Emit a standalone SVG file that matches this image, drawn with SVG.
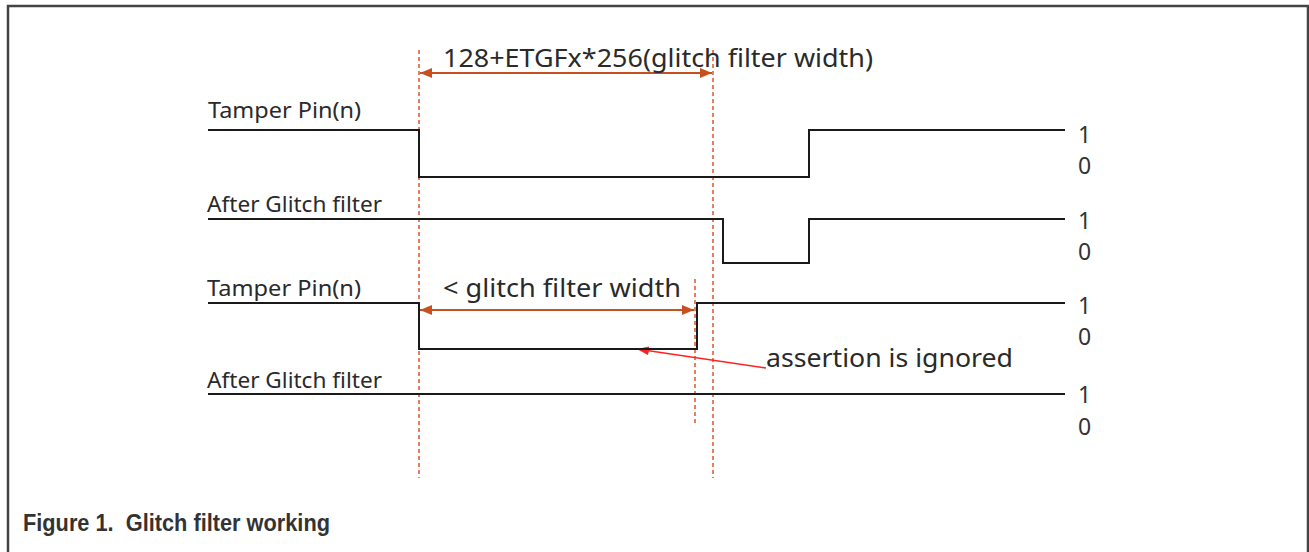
<svg xmlns="http://www.w3.org/2000/svg" width="1309" height="552" viewBox="0 0 1309 552">
  <defs>
    <style>
      .lbl { font-family: "Noto Sans", "Open Sans", sans-serif; font-size: 22px; fill: #2a2a2a; }
      .big { font-family: "Noto Sans", "Open Sans", sans-serif; font-size: 26px; fill: #2a2a2a; }
      .lvl { font-family: "Noto Sans", "Open Sans", sans-serif; font-size: 23px; fill: #333333; }
      .sig { fill: none; stroke: #1a1a1a; stroke-width: 2; }
      .guide { fill: none; stroke: #e0603a; stroke-width: 1.6; stroke-dasharray: 4 3; }
      .dim { fill: none; stroke: #c8501e; stroke-width: 2; marker-start: url(#dimS); marker-end: url(#dimE); }
      .note { fill: none; stroke: #ff2020; stroke-width: 1.6; marker-end: url(#redE); }
      .cap { font-family: "Liberation Sans", Arial, sans-serif; font-size: 23px; font-weight: bold; fill: #333333; }
    </style>
    <marker id="dimE" viewBox="0 0 12 10" refX="12" refY="5" markerWidth="12" markerHeight="10" markerUnits="userSpaceOnUse" orient="auto">
      <path d="M0,0 L12,5 L0,10 Z" fill="#c8501e"/>
    </marker>
    <marker id="dimS" viewBox="0 0 12 10" refX="0" refY="5" markerWidth="12" markerHeight="10" markerUnits="userSpaceOnUse" orient="auto">
      <path d="M12,0 L0,5 L12,10 Z" fill="#c8501e"/>
    </marker>
    <marker id="redE" viewBox="0 0 12 9" refX="12" refY="4.5" markerWidth="12" markerHeight="9" markerUnits="userSpaceOnUse" orient="auto">
      <path d="M0,0 L12,4.5 L0,9 Z" fill="#ff2020"/>
    </marker>
  </defs>
  <rect width="1309" height="552" fill="#ffffff"/>
  <g id="frame">
    <path d="M8,560 L8,6 L1308,6 L1308,560" fill="none" stroke="#444444" stroke-width="2.5"/>
  </g>

  <g id="connectors">
    <line class="guide" x1="419" y1="50" x2="419" y2="478"/>
    <line class="guide" x1="713" y1="50" x2="713" y2="478"/>
    <line class="guide" x1="695" y1="279" x2="695" y2="423"/>
    <line class="dim" x1="420" y1="73" x2="712" y2="73"/>
    <line class="dim" x1="420" y1="310" x2="694" y2="310"/>
    <line class="note" x1="766" y1="368" x2="637" y2="349"/>
  </g>

  <g id="dim-label-1">
    <text class="big" x="443" y="67" textLength="430" lengthAdjust="spacingAndGlyphs">128+ETGFx*256(glitch filter width)</text>
  </g>

  <g id="signal-1">
    <text class="lbl" x="208" y="118" textLength="153" lengthAdjust="spacingAndGlyphs">Tamper Pin(n)</text>
    <path class="sig" d="M208,130 H419 V177 H809 V130 H1065"/>
    <text class="lvl" x="1078" y="143">1</text>
    <text class="lvl" x="1078" y="174">0</text>
  </g>

  <g id="signal-2">
    <text class="lbl" x="207" y="212" textLength="175" lengthAdjust="spacingAndGlyphs">After Glitch filter</text>
    <path class="sig" d="M208,219 H723 V263 H809 V219 H1065"/>
    <text class="lvl" x="1078" y="229">1</text>
    <text class="lvl" x="1078" y="260">0</text>
  </g>

  <g id="signal-3">
    <text class="lbl" x="207" y="296" textLength="154" lengthAdjust="spacingAndGlyphs">Tamper Pin(n)</text>
    <path class="sig" d="M208,303 H419 V349 H697 V303 H1065"/>
    <text class="lvl" x="1078" y="314">1</text>
    <text class="lvl" x="1078" y="345">0</text>
  </g>

  <g id="dim-label-2">
    <text class="big" x="443" y="297" textLength="238" lengthAdjust="spacingAndGlyphs">&lt; glitch filter width</text>
  </g>

  <g id="note">
    <text class="big" x="766" y="367" textLength="247" lengthAdjust="spacingAndGlyphs">assertion is ignored</text>
  </g>

  <g id="signal-4">
    <text class="lbl" x="207" y="388" textLength="175" lengthAdjust="spacingAndGlyphs">After Glitch filter</text>
    <path class="sig" d="M208,394 H1065"/>
    <text class="lvl" x="1078" y="403">1</text>
    <text class="lvl" x="1078" y="435">0</text>
  </g>

  <g id="caption">
    <text class="cap" x="23" y="531" xml:space="preserve" textLength="307" lengthAdjust="spacingAndGlyphs">Figure 1.  Glitch filter working</text>
  </g>
</svg>
